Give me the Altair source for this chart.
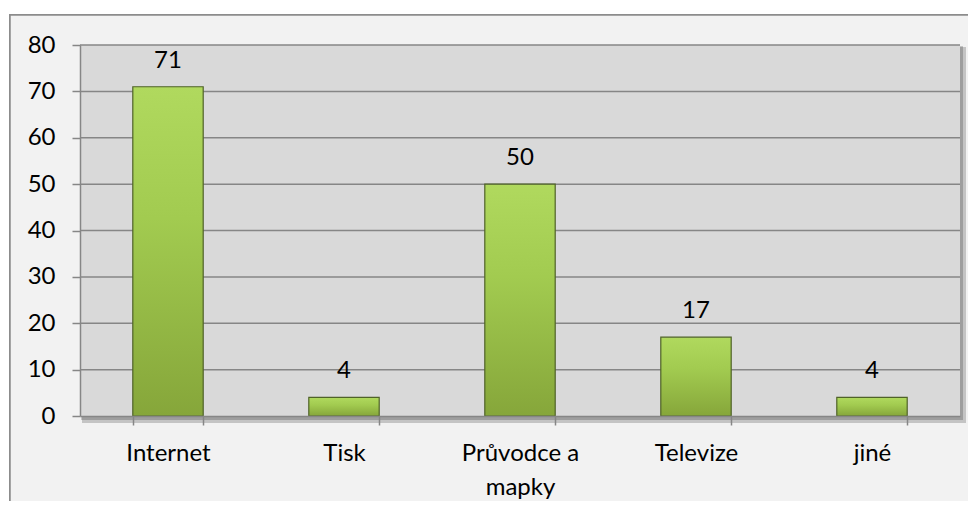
import altair as alt
import pandas as pd

categories = ["Internet", "Tisk", "Průvodce a|mapky", "Televize", "jiné"]
values = [71, 4, 50, 17, 4]
y_ticks = [0, 10, 20, 30, 40, 50, 60, 70, 80]

df = pd.DataFrame({"kat": categories, "hodnota": values})
grid_df = pd.DataFrame({"g": y_ticks[1:]})

FONT = "Lato"
FS = 24
GRID = "#868686"

x_enc = alt.X(
    "kat:N",
    sort=categories,
    scale=alt.Scale(paddingInner=0.6, paddingOuter=0.3),
    axis=alt.Axis(
        title=None,
        labelAngle=0,
        labelExpr="split(datum.label, '|')",
        labelFont=FONT,
        labelFontSize=FS,
        labelColor="#000000",
        labelPadding=16,
        labelLineHeight=34,
        tickBand="extent",
        tickSize=9,
        tickColor=GRID,
        tickWidth=1.5,
        domainColor=GRID,
        domainWidth=1.5,
        grid=False,
        zindex=1,
    ),
)

y_scale = alt.Scale(domain=[0, 80])

y_enc = alt.Y(
    "hodnota:Q",
    scale=y_scale,
    axis=alt.Axis(
        title=None,
        values=y_ticks,
        labelFont=FONT,
        labelFontSize=FS,
        labelColor="#000000",
        labelPadding=17,
        tickSize=8,
        tickColor=GRID,
        tickWidth=1.5,
        domainColor=GRID,
        domainWidth=1.5,
        grid=False,
        zindex=1,
    ),
)

frame = alt.Chart(df).mark_rect(
    fill="#f2f2f2", stroke="#8c8c8c", strokeWidth=1.5
).encode(
    x=alt.value(-70), x2=alt.value(905),
    y=alt.value(-30), y2=alt.value(480),
)

shadow1 = alt.Chart(df).mark_rect(fill="#000000", opacity=0.04).encode(
    x=alt.value(2), x2=alt.value(886),
    y=alt.value(2), y2=alt.value(378),
)
shadow2 = alt.Chart(df).mark_rect(fill="#000000", opacity=0.04).encode(
    x=alt.value(1), x2=alt.value(883),
    y=alt.value(1), y2=alt.value(375),
)

plotbg = alt.Chart(df).mark_rect(fill="#d9d9d9").encode(
    x=alt.value(0), x2=alt.value(880),
    y=alt.value(0), y2=alt.value(371),
)

grid = alt.Chart(grid_df).mark_rule(color=GRID, strokeWidth=1.5).encode(
    y=alt.Y("g:Q", scale=y_scale),
    x=alt.value(0), x2=alt.value(880),
)

bars = alt.Chart(df).mark_bar(
    color=alt.Gradient(
        gradient="linear",
        stops=[
            alt.GradientStop(color="#b0d95e", offset=0),
            alt.GradientStop(color="#a2cb50", offset=0.4),
            alt.GradientStop(color="#86a63a", offset=1),
        ],
        x1=0, x2=0, y1=0, y2=1,
    ),
    stroke="#4f6228",
    strokeWidth=1.2,
).encode(x=x_enc, y=y_enc)

labels = alt.Chart(df).mark_text(
    font=FONT, fontSize=FS, color="#000000", baseline="bottom", dy=-14
).encode(
    x=alt.X("kat:N", sort=categories),
    y="hodnota:Q",
    text="hodnota:Q",
)

chart = alt.layer(frame, shadow1, shadow2, plotbg, grid, bars, labels).properties(
    width=880,
    height=371,
    autosize=alt.AutoSizeParams(type="none"),
    padding={"left": 72, "top": 37, "right": 8, "bottom": 85},
    background="#ffffff",
).configure_view(stroke=None)

chart.save("out.html", embed_options={"renderer": "svg", "actions": False})
